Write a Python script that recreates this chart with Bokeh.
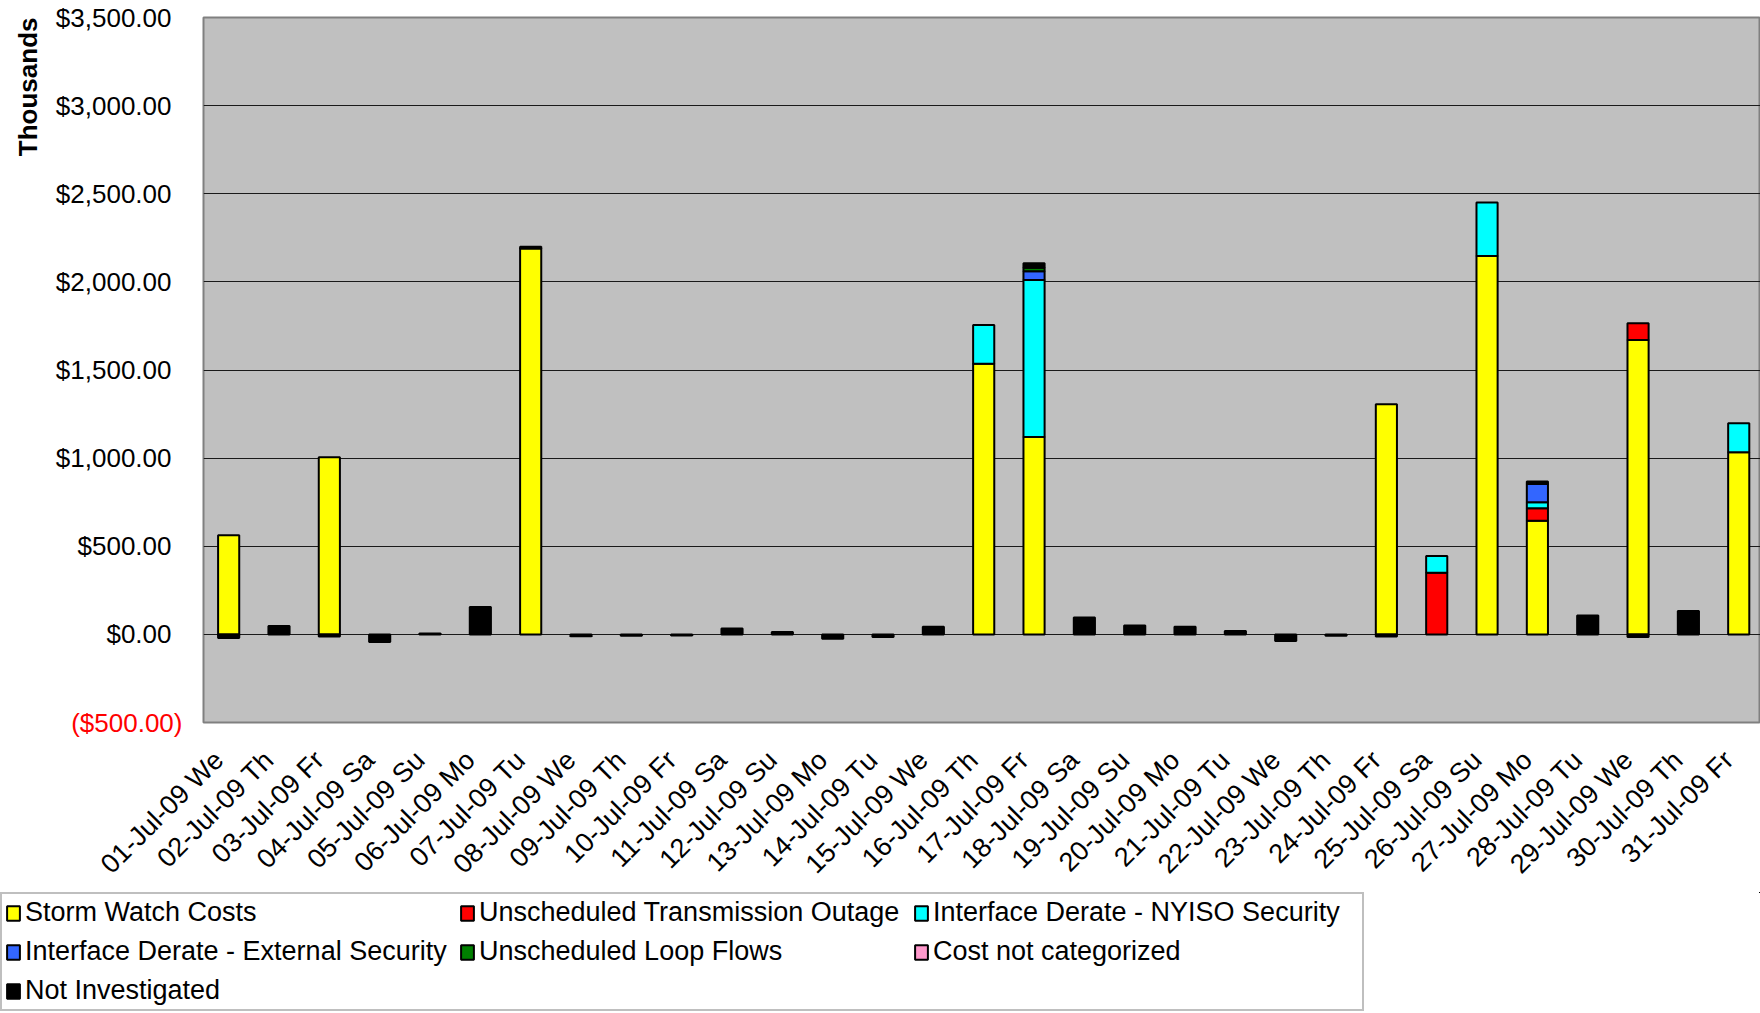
import math
from bokeh.plotting import figure
from bokeh.models import (Range1d, ColumnDataSource, FixedTicker, NumeralTickFormatter,
                          Legend, LegendItem, Title, LinearAxis)
from bokeh.embed import file_html
from bokeh.resources import INLINE

# ---------------- data (thousands of $) ----------------
days = ["01-Jul-09 We", "02-Jul-09 Th", "03-Jul-09 Fr", "04-Jul-09 Sa", "05-Jul-09 Su",
        "06-Jul-09 Mo", "07-Jul-09 Tu", "08-Jul-09 We", "09-Jul-09 Th", "10-Jul-09 Fr",
        "11-Jul-09 Sa", "12-Jul-09 Su", "13-Jul-09 Mo", "14-Jul-09 Tu", "15-Jul-09 We",
        "16-Jul-09 Th", "17-Jul-09 Fr", "18-Jul-09 Sa", "19-Jul-09 Su", "20-Jul-09 Mo",
        "21-Jul-09 Tu", "22-Jul-09 We", "23-Jul-09 Th", "24-Jul-09 Fr", "25-Jul-09 Sa",
        "26-Jul-09 Su", "27-Jul-09 Mo", "28-Jul-09 Tu", "29-Jul-09 We", "30-Jul-09 Th",
        "31-Jul-09 Fr"]

storm_watch = [562, 0, 1005, 0, 0, 0, 2190, 0, 0, 0, 0, 0, 0, 0, 0,
               1535, 1120, 0, 0, 0, 0, 0, 0, 1305, 0, 2147, 645, 0, 1670, 0, 1034]
trans_outage = [0, 0, 0, 0, 0, 0, 0, 0, 0, 0, 0, 0, 0, 0, 0,
                0, 0, 0, 0, 0, 0, 0, 0, 0, 350, 0, 70, 0, 95, 0, 0]
nyiso_security = [-8, 0, 0, 0, 0, 0, 0, 0, 0, 0, 0, 0, 0, 0, 0,
                  220, 890, 0, 0, 0, 0, 0, 0, 0, 95, 303, 35, 0, 0, 0, 164]
external_security = [0, 0, 0, 0, 0, 0, 0, 0, 0, 0, 0, 0, 0, 0, 0,
                     0, 50, 0, 0, 0, 0, 0, 0, 0, 0, 0, 103, 0, 0, 0, 0]
loop_flows = [0, 0, 0, 0, 0, 0, 0, 0, 0, 0, 0, 0, 0, 0, 0,
              0, 20, 0, 0, 0, 0, 0, 0, 0, 0, 0, 0, 0, 0, 0, 0]
not_categorized = [0] * 31
not_investigated = [-12, 48, -12, -43, 5, 155, 10, -10, -8, -7, 34, 14, -25, -15, 43,
                    0, 25, 96, 51, 43, 19, -37, -8, -12, 0, 0, 15, 107, -15, 132, 0]

series_names = ["Storm Watch Costs", "Unscheduled Transmission Outage",
                "Interface Derate - NYISO Security", "Interface Derate - External Security",
                "Unscheduled Loop Flows", "Cost not categorized", "Not Investigated"]
series_values = [storm_watch, trans_outage, nyiso_security, external_security,
                 loop_flows, not_categorized, not_investigated]
series_colors = ["#FFFF00", "#FF0000", "#00FFFF", "#3366FF", "#008000", "#FF99CC", "#000000"]

y_ticks = [0, 500, 1000, 1500, 2000, 2500, 3000, 3500]
neg_tick = -500
neg_tick_label = "($500.00)"

FONT = "Liberation Sans"
FS = "26px"

W = 1760
H_CHART = 892
H_LEGEND = 119
LEFT, TOP, FRAME_H = 201, 17, 709
CAT_PX = 50.4

n = len(days)
p = figure(width=W, height=H_CHART, output_backend="svg", toolbar_location=None,
           x_range=Range1d(0, (W - LEFT) / CAT_PX), y_range=Range1d(-500, 3500),
           min_border_left=LEFT, min_border_right=0, min_border_top=TOP,
           min_border_bottom=H_CHART - TOP - FRAME_H)
p.background_fill_color = "#C0C0C0"
p.border_fill_color = "white"
p.outline_line_color = "#808080"
p.outline_line_width = 2

# stacked bars: positives stack upward, negatives downward (as in the spreadsheet)
pos = [0.0] * n
neg = [0.0] * n
for name, vals, color in zip(series_names, series_values, series_colors):
    xs, tops, bottoms = [], [], []
    for i, v in enumerate(vals):
        if v == 0:
            continue
        if v > 0:
            b = pos[i]; t = b + v; pos[i] = t
        else:
            b = neg[i]; t = b + v; neg[i] = t
        xs.append(i + 0.5); bottoms.append(b); tops.append(t)
    src = ColumnDataSource(dict(x=xs, top=tops, bottom=bottoms))
    p.vbar(x="x", top="top", bottom="bottom", width=0.42, source=src,
           fill_color=color, line_color="black", line_width=2)

# grid
p.xgrid.visible = False
p.ygrid.ticker = FixedTicker(ticks=y_ticks[:-1])
p.ygrid.grid_line_color = "#1a1a1a"
p.ygrid.grid_line_width = 1

# inner left axis: the red negative label
ax_red = p.yaxis[0]
ax_red.ticker = FixedTicker(ticks=[neg_tick])
ax_red.major_label_overrides = {neg_tick: neg_tick_label}
ax_red.axis_line_color = None
ax_red.major_tick_out = 0
ax_red.major_tick_in = 0
ax_red.minor_tick_line_color = None
ax_red.major_label_standoff = 21
ax_red.major_label_text_font = FONT
ax_red.major_label_text_font_size = FS
ax_red.major_label_text_color = "#FF0000"

# outer left axis: black currency labels, pulled back onto the same column
ax_blk = LinearAxis(ticker=FixedTicker(ticks=y_ticks), formatter=NumeralTickFormatter(format="$0,0.00"),
                    axis_line_color=None, major_tick_out=0, major_tick_in=0,
                    minor_tick_line_color=None, major_label_standoff=-103,
                    major_label_text_font=FONT, major_label_text_font_size=FS,
                    major_label_text_color="black")
p.add_layout(ax_blk, "left")

lab_shift = -10 / CAT_PX
xt = [i + 0.5 + lab_shift for i in range(n)]
p.xaxis.ticker = FixedTicker(ticks=xt)
p.xaxis.major_label_overrides = {t: d for t, d in zip(xt, days)}
p.xaxis.major_label_orientation = math.pi / 4
p.xaxis.axis_line_color = None
p.xaxis.major_tick_out = 0
p.xaxis.major_tick_in = 0
p.xaxis.minor_tick_line_color = None
p.xaxis.major_label_standoff = 33
p.xaxis.major_label_text_font = FONT
p.xaxis.major_label_text_font_size = "27px"
p.xaxis.major_label_text_color = "black"

# axis title at top-left
ttl = Title(text="Thousands", align="right", text_font=FONT, text_font_size=FS,
            text_font_style="bold", text_color="black")
try:
    ttl.standoff = 20
except Exception:
    pass
p.add_layout(ttl, "left")

# ---------------- legend strip (separate root, full-width frame) ----------------
lf = figure(width=W, height=H_LEGEND, output_backend="svg", toolbar_location=None,
            x_range=Range1d(0, 1), y_range=Range1d(-1e7, -1e7 + 1), min_border=0,
            x_axis_location=None, y_axis_location=None)
lf.outline_line_color = None
lf.grid.visible = False
lf.background_fill_color = "white"
lf.border_fill_color = "white"
lrs = []
for vals, color in zip(series_values, series_colors):
    lsrc = ColumnDataSource(dict(x=[i + 0.5 for i in range(n)], top=list(vals), bottom=[0] * n))
    lrs.append(lf.vbar(x="x", top="top", bottom="bottom", width=0.42, source=lsrc,
                       fill_color=color, line_color="black", line_width=2))
legend = Legend(items=[LegendItem(label=nm, renderers=[r]) for nm, r in zip(series_names, lrs)],
                location="top_left", orientation="horizontal", ncols=3,
                label_text_font=FONT, label_text_font_size="27px", label_text_color="black",
                label_height=26, label_width=426,
                glyph_width=16, glyph_height=18, label_standoff=4, spacing=8,
                padding=3, margin=0, border_line_color="#808080", border_line_width=2,
                background_fill_color="white", background_fill_alpha=1.0)
lf.add_layout(legend)

open("out.html", "w").write(file_html([p, lf], INLINE))
